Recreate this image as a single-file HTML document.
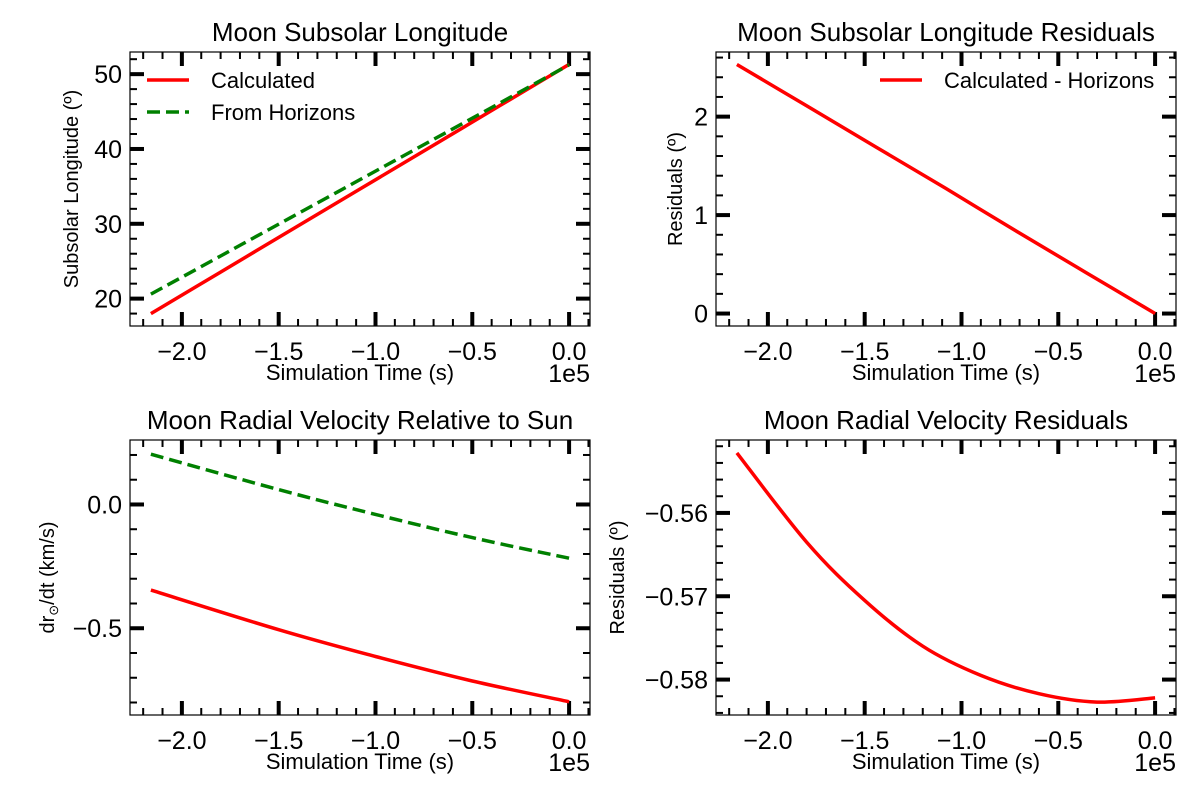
<!DOCTYPE html>
<html><head><meta charset="utf-8"><style>
body{margin:0;background:#fff;}
svg text{font-family:"Liberation Sans",Arial,sans-serif;fill:#000;}
</style></head><body>
<svg id="fig" width="1200" height="800" viewBox="0 0 1200 800" xmlns="http://www.w3.org/2000/svg"></svg>
<script>
// ---- data ----
const t1 = [-2.16,-1.8,-1.44,-1.08,-0.72,-0.36,0];
const lonCalc = [18.0,23.55,29.1,34.65,40.2,45.75,51.3];
const lonHor = [20.6,25.7,30.8,35.9,41.0,46.1,51.25];
const lonRes = [2.53,2.11,1.69,1.27,0.84,0.42,0.0];
const t3 = [-2.16,-1.5,-1.0,-0.5,0];
const rvHor = [0.203,0.060,-0.040,-0.134,-0.217];
const rvCalc = [-0.346,-0.506,-0.614,-0.713,-0.797];
const t4 = [-2.16,-1.8,-1.5,-1.2,-0.9,-0.6,-0.3,0];
const rvRes = [-0.5528,-0.5635,-0.5705,-0.5760,-0.5795,-0.5817,-0.5827,-0.5822];
const xTicks = [-2.0,-1.5,-1.0,-0.5,0.0];
const xTickLabels = ["\u22122.0","\u22121.5","\u22121.0","\u22120.5","0.0"];

const svg = document.getElementById('fig');
const NS = 'http://www.w3.org/2000/svg';
function mk(tag, attrs, parent){const e=document.createElementNS(NS,tag);for(const k in attrs)e.setAttribute(k,attrs[k]);(parent||svg).appendChild(e);return e;}
function smooth(pts){
  let d='M'+pts[0][0].toFixed(1)+','+pts[0][1].toFixed(1);
  for(let i=0;i<pts.length-1;i++){
    const p0=pts[i-1]||pts[i],p1=pts[i],p2=pts[i+1],p3=pts[i+2]||p2;
    const c1=[p1[0]+(p2[0]-p0[0])/6,p1[1]+(p2[1]-p0[1])/6];
    const c2=[p2[0]-(p3[0]-p1[0])/6,p2[1]-(p3[1]-p1[1])/6];
    d+=` C${c1[0].toFixed(1)},${c1[1].toFixed(1)} ${c2[0].toFixed(1)},${c2[1].toFixed(1)} ${p2[0].toFixed(1)},${p2[1].toFixed(1)}`;
  }
  return d;
}

function panel(cfg){
  const g = mk('g',{});
  
  
  const {x0,y0,w,h,xlim,ylim}=cfg;
  const X=v=>x0+(v-xlim[0])/(xlim[1]-xlim[0])*w;
  const Y=v=>y0+h-(v-ylim[0])/(ylim[1]-ylim[0])*h;
  for(let v=-2.2; v<=0.1001; v+=0.1){
    const px=X(v); if(px<x0||px>x0+w) continue;
    mk('line',{x1:px,x2:px,y1:y0+h,y2:y0+h-7,stroke:'#000','stroke-width':2},g);
    mk('line',{x1:px,x2:px,y1:y0,y2:y0+7,stroke:'#000','stroke-width':2},g);
  }
  xTicks.forEach((v,i)=>{
    const px=X(v);
    mk('line',{x1:px,x2:px,y1:y0+h,y2:y0+h-14,stroke:'#000','stroke-width':4},g);
    mk('line',{x1:px,x2:px,y1:y0,y2:y0+14,stroke:'#000','stroke-width':4},g);
    const t=mk('text',{x:px,y:y0+h+34,'text-anchor':'middle','font-size':25},g);
    t.textContent=xTickLabels[i];
    
    
  });
  const ym=cfg.yminor;
  for(let v=Math.ceil(ylim[0]/ym)*ym; v<=ylim[1]; v+=ym){
    const py=Y(v);
    mk('line',{x1:x0,x2:x0+7,y1:py,y2:py,stroke:'#000','stroke-width':2},g);
    mk('line',{x1:x0+w,x2:x0+w-7,y1:py,y2:py,stroke:'#000','stroke-width':2},g);
  }
  cfg.yticks.forEach((v,i)=>{
    const py=Y(v);
    mk('line',{x1:x0,x2:x0+14,y1:py,y2:py,stroke:'#000','stroke-width':4},g);
    mk('line',{x1:x0+w,x2:x0+w-14,y1:py,y2:py,stroke:'#000','stroke-width':4},g);
    const t=mk('text',{x:x0-8,y:py+9,'text-anchor':'end','font-size':25},g);
    t.textContent=cfg.ylabels[i];
    
    
  });
  mk('rect',{x:x0,y:y0,width:w,height:h,fill:'none',stroke:'#000','stroke-width':1.2},g);
  cfg.series.forEach(s=>{
    const pts=s.t.map((tv,i)=>[X(tv),Y(s.v[i])]);
    const p=mk('path',{d:smooth(pts),fill:'none',stroke:s.color,'stroke-width':3.5,'stroke-dasharray':s.dash||'none'},g);
    
    
  });
  let t=mk('text',{x:x0+w/2,y:y0-11,'text-anchor':'middle','font-size':26},g);
  t.textContent=cfg.title;
  
  
  t=mk('text',{x:x0+w/2,y:y0+h+54,'text-anchor':'middle','font-size':22},g);
  t.textContent='Simulation Time (s)';
  
  
  t=mk('text',{x:x0+w,y:y0+h+56,'text-anchor':'end','font-size':25},g);
  t.textContent='1e5';
  
  
  const yl=x0-cfg.ylOff, ym2=y0+h/2;
  t=mk('text',{x:yl,y:ym2,'text-anchor':'middle','font-size':20,transform:`rotate(-90 ${yl} ${ym2})`},g);
  t.innerHTML=cfg.ylabel;
  
  
  if(cfg.legend){
    cfg.legend.forEach((L,i)=>{
      const ly=cfg.legendY+i*32;
      mk('line',{x1:L.x,x2:L.x+42,y1:ly,y2:ly,stroke:L.color,'stroke-width':3.5,'stroke-dasharray':L.dash||'none'},g);
      const tt=mk('text',{x:L.x+64,y:ly+8,'font-size':22},g);
      tt.textContent=L.text;
      
      
    });
  }
}
const xlim=[-2.268,0.108];
panel({name:'subsolar-longitude-panel',x0:130,y0:52,w:460,h:274,xlim,ylim:[16.34,52.96],
  yticks:[20,30,40,50],ylabels:['20','30','40','50'],yminor:2,title:'Moon Subsolar Longitude',
  ylabel:'Subsolar Longitude (º)',ylOff:52,
  series:[{name:'calculated-line',t:t1,v:lonCalc,color:'#ff0000'},{name:'horizons-line',t:t1,v:lonHor,color:'#008000',dash:'13,6'}],
  legend:[{x:147,color:'#ff0000',text:'Calculated'},{x:147,color:'#008000',dash:'13,6',text:'From Horizons'}],legendY:80});
panel({name:'longitude-residuals-panel',x0:716,y0:52,w:460,h:274,xlim,ylim:[-0.1265,2.6565],
  yticks:[0,1,2],ylabels:['0','1','2'],yminor:0.2,title:'Moon Subsolar Longitude Residuals',
  ylabel:'Residuals (º)',ylOff:34,
  series:[{name:'residual-line',t:t1,v:lonRes,color:'#ff0000'}],
  legend:[{x:880,color:'#ff0000',text:'Calculated - Horizons'}],legendY:80});
panel({name:'radial-velocity-panel',x0:130,y0:440,w:460,h:275,xlim,ylim:[-0.8505,0.2605],
  yticks:[-0.5,0.0],ylabels:['\u22120.5','0.0'],yminor:0.1,title:'Moon Radial Velocity Relative to Sun',
  ylabel:'dr<tspan font-size="13" dy="4">⊙</tspan><tspan dy="-4">/dt (km/s)</tspan>',ylOff:76,
  series:[{name:'calculated-line',t:t3,v:rvCalc,color:'#ff0000'},{name:'horizons-line',t:t3,v:rvHor,color:'#008000',dash:'13,6'}]});
panel({name:'radial-velocity-residuals-panel',x0:716,y0:440,w:460,h:275,xlim,ylim:[-0.58425,-0.55125],
  yticks:[-0.58,-0.57,-0.56],ylabels:['\u22120.58','\u22120.57','\u22120.56'],yminor:0.002,title:'Moon Radial Velocity Residuals',
  ylabel:'Residuals (º)',ylOff:92,
  series:[{name:'residual-line',t:t4,v:rvRes,color:'#ff0000'}]});
</script>
</body></html>
